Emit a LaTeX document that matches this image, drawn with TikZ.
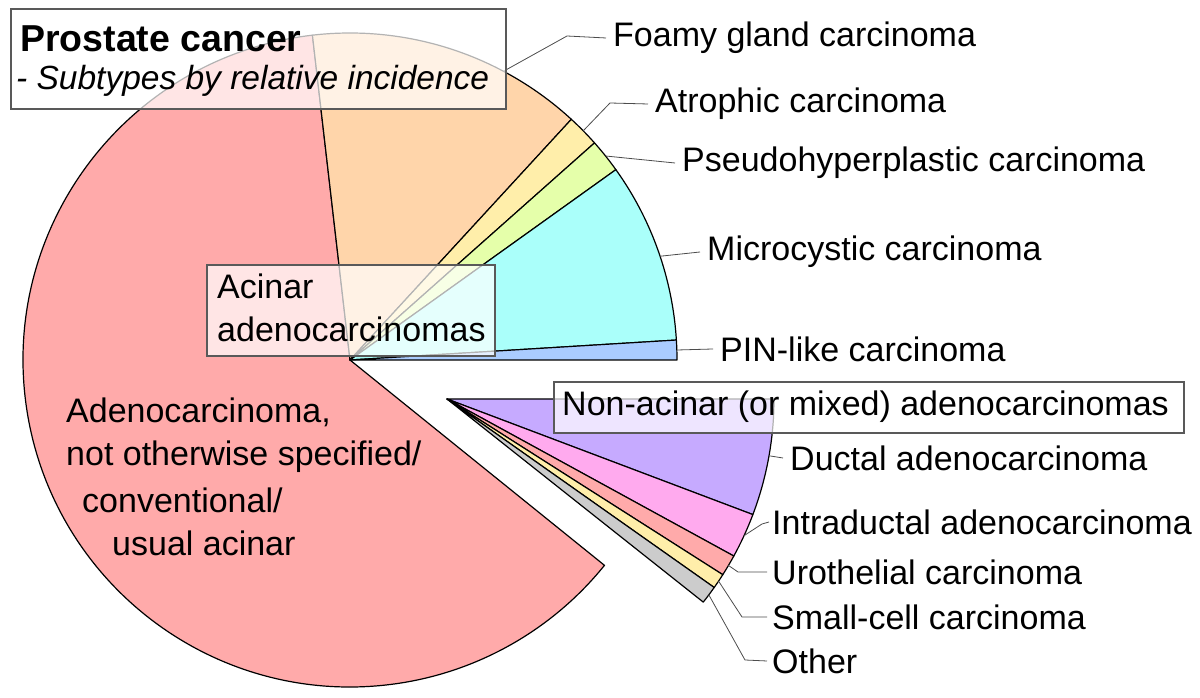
\documentclass[tikz,border=0pt]{standalone}
\usepackage{fontspec}
\setmainfont{Liberation Sans}
\begin{document}
\begin{tikzpicture}[x=1pt,y=1pt,
  sl/.style={draw=black,line width=1.2pt,line join=round},
  lead/.style={draw=black!70,line width=0.8pt},
  lab/.style={anchor=west,inner sep=0pt,font=\fontsize{34}{40}\selectfont},
  gbox/.style={draw=black!65,line width=1.8pt,fill=white,fill opacity=0.7,text opacity=1}]
\useasboundingbox (0,0) rectangle (1200,698);
\coordinate (A) at (350,338);
\coordinate (N) at (447,299);
\def\R{327pt}
% acinar
\filldraw[sl,fill={rgb,255:red,255;green,170;blue,170}] (A) -- ++(96.6:\R) arc[start angle=96.6,end angle=321.1,radius=\R] -- cycle;
\filldraw[sl,fill={rgb,255:red,255;green,213;blue,170}] (A) -- ++(47.4:\R) arc[start angle=47.4,end angle=96.6,radius=\R] -- cycle;
\filldraw[sl,fill={rgb,255:red,255;green,238;blue,170}] (A) -- ++(41.6:\R) arc[start angle=41.6,end angle=47.4,radius=\R] -- cycle;
\filldraw[sl,fill={rgb,255:red,229;green,255;blue,170}] (A) -- ++(35.6:\R) arc[start angle=35.6,end angle=41.6,radius=\R] -- cycle;
\filldraw[sl,fill={rgb,255:red,170;green,255;blue,250}] (A) -- ++(3.5:\R) arc[start angle=3.5,end angle=35.6,radius=\R] -- cycle;
\filldraw[sl,fill={rgb,255:red,170;green,204;blue,255}] (A) -- ++(0:\R) arc[start angle=0,end angle=3.5,radius=\R] -- cycle;
% non-acinar
\filldraw[sl,fill={rgb,255:red,198;green,170;blue,255}] (N) -- ++(-20.7:\R) arc[start angle=-20.7,end angle=0,radius=\R] -- cycle;
\filldraw[sl,fill={rgb,255:red,255;green,170;blue,238}] (N) -- ++(-28.7:\R) arc[start angle=-28.7,end angle=-20.7,radius=\R] -- cycle;
\filldraw[sl,fill={rgb,255:red,255;green,170;blue,170}] (N) -- ++(-32.5:\R) arc[start angle=-32.5,end angle=-28.7,radius=\R] -- cycle;
\filldraw[sl,fill={rgb,255:red,255;green,238;blue,170}] (N) -- ++(-35.2:\R) arc[start angle=-35.2,end angle=-32.5,radius=\R] -- cycle;
\filldraw[sl,fill={rgb,255:red,204;green,204;blue,204}] (N) -- ++(-38.4:\R) arc[start angle=-38.4,end angle=-35.2,radius=\R] -- cycle;
% labels
\node[lab] (foamy) at (613,660) {Foamy gland carcinoma};
\node[lab] (atro) at (655,594) {Atrophic carcinoma};
\node[lab] (pseudo) at (682,535) {Pseudohyperplastic carcinoma};
\node[lab] (micro) at (707,446) {Microcystic carcinoma};
\node[lab] (pin) at (720,349) {PIN-like carcinoma};
\node[lab] (duct) at (790,240) {Ductal adenocarcinoma};
\node[lab] (intra) at (772,176) {Intraductal adenocarcinoma};
\node[lab] (uro) at (772,126) {Urothelial carcinoma};
\node[lab] (small) at (772,81) {Small-cell carcinoma};
\node[lab] (other) at (772,37) {Other};
\path (A) ++(62:\R) coordinate (pf);
\path (A) ++(44.5:\R) coordinate (pa);
\path (A) ++(38.6:\R) coordinate (pp);
\path (A) ++(18.5:\R) coordinate (pm);
\path (A) ++(1.75:\R) coordinate (pn);
\path (N) ++(-10:\R) coordinate (qd);
\path (N) ++(-24.7:\R) coordinate (qi);
\path (N) ++(-30.6:\R) coordinate (qu);
\path (N) ++(-33.85:\R) coordinate (qs);
\path (N) ++(-36.8:\R) coordinate (qo);
\draw[lead] (pf) -- (567,662) -- ([xshift=-7]foamy.west);
\draw[lead] (pa) -- (610,595) -- ([xshift=-7]atro.west);
\draw[lead] (pp) -- ([xshift=-7]pseudo.west);
\draw[lead] (pm) -- ([xshift=-7]micro.west);
\draw[lead] (pn) -- ([xshift=-7]pin.west);
\draw[lead] (qd) -- ([xshift=-7]duct.west);
\draw[lead] (qi) -- (762,174) -- ([xshift=-3]intra.west);
\draw[lead] (qu) -- (738,126) -- ([xshift=-5]uro.west);
\draw[lead] (qs) -- (742,81) -- ([xshift=-5]small.west);
\draw[lead] (qo) -- (745,38) -- ([xshift=-5]other.west);
% boxes
\node[gbox,minimum width=495,minimum height=100,anchor=north west,inner sep=0] (tbox) at (10,690) {};
\node[anchor=west,inner sep=0,font=\fontsize{37.5}{42}\selectfont\bfseries] (title) at (20,659) {Prostate cancer};
\node[anchor=west,inner sep=0,font=\fontsize{33.5}{38}\selectfont\itshape] (sub) at (16,617) {- Subtypes by relative incidence};
\node[gbox,minimum width=288,minimum height=91,anchor=north west,inner sep=0] (abox) at (206,434) {};
\node[anchor=north west,inner sep=0,align=left,font=\fontsize{34}{43}\selectfont] (atext) at (217,424) {Acinar\\adenocarcinomas};
\node[gbox,minimum width=630,minimum height=51,anchor=north west,inner sep=0] (nbox) at (553,317) {};
\node[anchor=west,inner sep=0,font=\fontsize{34}{40}\selectfont] (ntext) at (562,291) {Non-acinar (or mixed) adenocarcinomas};
\node[lab] (m1) at (66,286) {Adenocarcinoma,};
\node[lab] (m2) at (66,241) {not otherwise specified/};
\node[lab] (m3) at (82,198) {conventional/};
\node[lab] (m4) at (112,155) {usual acinar};
\end{tikzpicture}
\end{document}
